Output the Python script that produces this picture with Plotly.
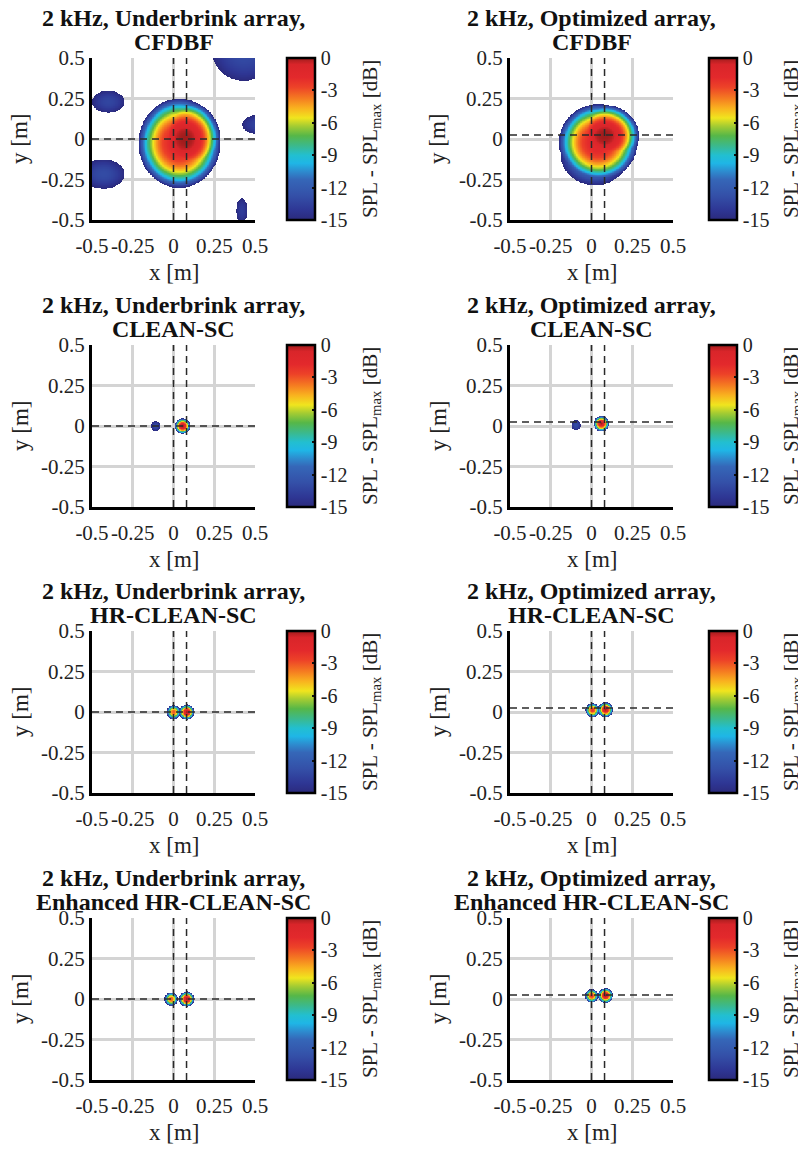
import numpy as np
import plotly.graph_objects as go

W, H = 806, 1149
OFF = 8            # page body margin of the html page
FONT = "Liberation Serif"

# ---------------- data ----------------
freq_label = "2 kHz"
array_names = ["Underbrink array", "Optimized array"]
methods = ["CFDBF", "CLEAN-SC", "HR-CLEAN-SC", "Enhanced HR-CLEAN-SC"]

axis_ticks = [-0.5, -0.25, 0, 0.25, 0.5]
axis_ticklabels = ["-0.5", "-0.25", "0", "0.25", "0.5"]
cbar_ticks = [0, -3, -6, -9, -12, -15]
cbar_ticklabels = ["0", "-3", "-6", "-9", "-12", "-15"]
cbar_title = "SPL - SPL<sub>max</sub> [dB]"
level_min, level_max = -15, 0

# dashed source-position lines
source_x_lines = [0.0, 0.08]
source_y_line = [0.0, 0.025]          # Underbrink, Optimized

# lobes: (x centre, y centre, x radius at -15 dB, y radius at -15 dB, peak dB, shape exponent)
ub_cfdbf = [
    (0.07, 0.0, 0.215, 0.235, 0.0, 2.7),
    (0.035, -0.025, 0.25, 0.275, -1.5, 2.7),
    (0.43, 0.53, 0.19, 0.17, -13.0, 2.0),
    (-0.40, 0.23, 0.10, 0.068, -13.3, 2.0),
    (0.53, 0.09, 0.11, 0.062, -13.3, 2.0),
    (-0.43, -0.215, 0.13, 0.09, -13.0, 2.0),
    (0.418, -0.44, 0.035, 0.075, -13.8, 2.0),
]
opt_cfdbf = [
    (0.08, 0.02, 0.21, 0.19, 0.0, 2.7),
    (0.04, -0.02, 0.24, 0.235, -1.5, 2.7),
    (0.02, -0.09, 0.21, 0.195, -9.0, 2.0),
]
ub_clean = [
    (0.055, 0.0, 0.047, 0.047, 0.0, 2.0),
    (-0.11, 0.0, 0.03, 0.03, -13.0, 2.0),
]
opt_clean = [
    (0.06, 0.015, 0.047, 0.047, 0.0, 2.0),
    (-0.095, 0.005, 0.03, 0.03, -13.0, 2.0),
]
ub_hr = [
    (0.0, 0.0, 0.043, 0.043, -3.0, 2.0),
    (0.08, 0.0, 0.046, 0.046, 0.0, 2.0),
]
opt_hr = [
    (0.005, 0.012, 0.043, 0.043, -2.0, 2.0),
    (0.085, 0.015, 0.046, 0.046, 0.0, 2.0),
]
ub_ehr = [
    (-0.015, 0.0, 0.041, 0.041, -3.0, 2.0),
    (0.08, 0.0, 0.046, 0.046, 0.0, 2.0),
]
opt_ehr = [
    (0.0, 0.02, 0.041, 0.041, -2.0, 2.0),
    (0.085, 0.022, 0.046, 0.046, 0.0, 2.0),
]
panels = [[ub_cfdbf, opt_cfdbf], [ub_clean, opt_clean], [ub_hr, opt_hr], [ub_ehr, opt_ehr]]

colorscale = [
    [0.00, "#2b2a7c"], [0.06, "#2e3694"], [0.15, "#3450a8"], [0.25, "#3567b8"],
    [0.30, "#2d8ccf"], [0.35, "#1fb6e6"], [0.40, "#22bfd0"], [0.46, "#3cb98a"],
    [0.52, "#56b748"], [0.58, "#a5cc32"], [0.63, "#f0e51e"], [0.69, "#f9b21f"],
    [0.75, "#f57c21"], [0.82, "#ed4228"], [0.88, "#e3292c"], [0.96, "#d9252a"],
    [1.00, "#a01c1c"],
]

# ---------------- build maps ----------------
grid = np.linspace(-0.5, 0.5, 241)
GX, GY = np.meshgrid(grid, grid)


def build_map(lobes):
    z = np.full(GX.shape, -100.0)
    for (cx, cy, rx, ry, pk, p) in lobes:
        d = np.sqrt(((GX - cx) / rx) ** 2 + ((GY - cy) / ry) ** 2)
        lvl = pk - (pk - level_min) * d ** p
        z = np.maximum(z, lvl)
    z = np.where(z < level_min, np.nan, z)
    return z


# ---------------- layout geometry (pixels, page coordinates) ----------------
col_left = [92, 510]
plot_w = 163
row_top = [58, 345, 631, 918]
plot_h = 162
cbar_left = [287, 709]
cbar_w = 28
cbar_title_x = [371, 792]


def px(x):
    return (x - OFF) / W


def py(y):
    return 1 - (y - OFF) / H


fig = go.Figure()
annotations = []
shapes = []
layout = {}
dash_line = dict(color="#2a2a2a", width=1.5, dash="7px,5px")

for r in range(4):
    for c in range(2):
        i = r * 2 + c + 1
        xa = "x" if i == 1 else f"x{i}"
        ya = "y" if i == 1 else f"y{i}"
        x0, x1 = col_left[c], col_left[c] + plot_w
        y0, y1 = row_top[r], row_top[r] + plot_h
        z = build_map(panels[r][c])
        fig.add_trace(go.Heatmap(
            x=grid, y=grid, z=z, xaxis=xa, yaxis=ya,
            colorscale=colorscale, zmin=level_min, zmax=level_max,
            hoverongaps=False,
            colorbar=dict(
                x=px(cbar_left[c]), xanchor="left", xpad=0, ypad=0,
                y=py((y0 + y1) / 2), yanchor="middle",
                len=plot_h, lenmode="pixels", thickness=cbar_w, thicknessmode="pixels",
                outlinewidth=2.5, outlinecolor="black",
                tickvals=cbar_ticks, ticktext=cbar_ticklabels,
                ticks="inside", ticklen=4, tickwidth=2, tickcolor="#111",
                tickfont=dict(family=FONT, size=20, color="#222"),
            ),
        ))
        axis_common = dict(
            range=[-0.5, 0.5], tickvals=axis_ticks, ticktext=axis_ticklabels,
            tickangle=0, showgrid=True, gridcolor="#d4d4d4", gridwidth=3,
            zeroline=False, showline=True, linecolor="black", linewidth=3,
            mirror=False, ticks="", tickfont=dict(family=FONT, size=21, color="#222"),
            fixedrange=True,
        )
        layout["xaxis" if i == 1 else f"xaxis{i}"] = dict(
            axis_common, domain=[px(x0), px(x1)], anchor=ya, ticklabelstandoff=5)
        layout["yaxis" if i == 1 else f"yaxis{i}"] = dict(
            axis_common, domain=[py(y1), py(y0)], anchor=xa)

        # dashed source lines
        for sx in source_x_lines:
            shapes.append(dict(type="line", xref=xa, yref=ya, x0=sx, x1=sx, y0=-0.5, y1=0.5,
                               line=dash_line))
        sy = source_y_line[c]
        shapes.append(dict(type="line", xref=xa, yref=ya, x0=-0.5, x1=0.5, y0=sy, y1=sy,
                           line=dash_line))

        # title (two lines)
        for txt, dy in [(f"{freq_label}, {array_names[c]},", 40), (methods[r], 16)]:
            annotations.append(dict(
                text=f"<b>{txt}</b>",
                x=px((x0 + x1) / 2), y=py(y0 - dy), xref="paper", yref="paper",
                xanchor="center", yanchor="middle", showarrow=False,
                font=dict(family=FONT, size=24, color="#111"),
            ))
        # axis titles
        annotations.append(dict(
            text="x [m]", x=px((x0 + x1) / 2), y=py(y1 + 52), xref="paper", yref="paper",
            xanchor="center", yanchor="middle", showarrow=False,
            font=dict(family=FONT, size=23, color="#222"),
        ))
        annotations.append(dict(
            text="y [m]", x=px(x0 - 72), y=py((y0 + y1) / 2), xref="paper", yref="paper",
            xanchor="center", yanchor="middle", showarrow=False, textangle=-90,
            font=dict(family=FONT, size=23, color="#222"),
        ))
        # colorbar title
        annotations.append(dict(
            text=cbar_title, x=px(cbar_title_x[c]), y=py((y0 + y1) / 2),
            xref="paper", yref="paper", xanchor="center", yanchor="middle",
            showarrow=False, textangle=-90,
            font=dict(family=FONT, size=21, color="#222"),
        ))

fig.update_layout(
    width=W, height=H, margin=dict(l=0, r=0, t=0, b=0, autoexpand=False),
    paper_bgcolor="white", plot_bgcolor="white",
    showlegend=False, annotations=annotations, shapes=shapes,
    **layout,
)

fig.write_html("out.html")
